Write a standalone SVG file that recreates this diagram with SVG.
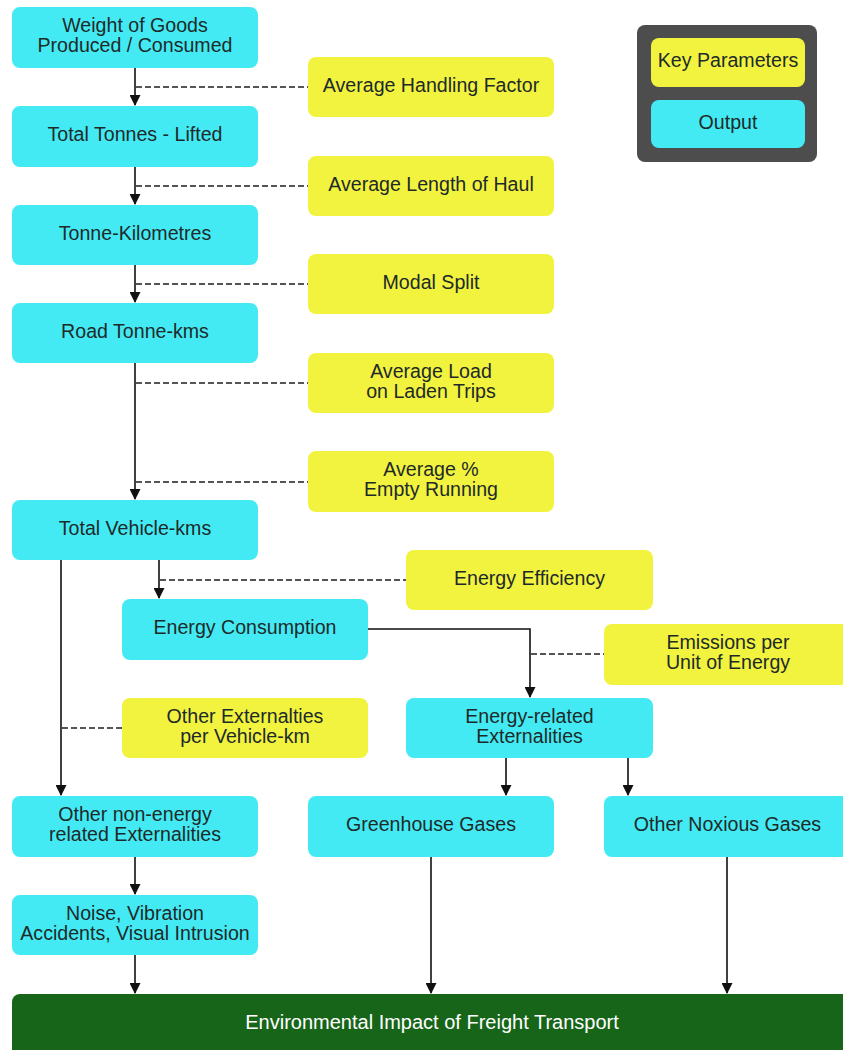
<svg xmlns="http://www.w3.org/2000/svg" width="843" height="1050" viewBox="0 0 843 1050">
<style>
.out{fill:#44EAF3}
.key{fill:#F2F33F}
.t{font-family:"Liberation Sans",Arial,sans-serif;font-size:19.6px;fill:#1e2a2a;text-anchor:middle}
.w{font-family:"Liberation Sans",Arial,sans-serif;font-size:20px;fill:#ffffff;text-anchor:middle}
.ln{stroke:#111;stroke-width:1.6;fill:none}
.ds{stroke:#555;stroke-width:2;stroke-dasharray:6 3;fill:none}
</style>
<defs>
<marker id="ah" markerWidth="11" markerHeight="11" refX="10" refY="5.5" orient="auto" markerUnits="userSpaceOnUse">
<path d="M0,0 L11,5.5 L0,11 Z" fill="#111"/>
</marker>
</defs>
<rect width="843" height="1050" fill="#ffffff"/>
<g id="connectors">
<path class="ln" d="M135,68 V105" marker-end="url(#ah)"/>
<path class="ln" d="M135,167 V204" marker-end="url(#ah)"/>
<path class="ln" d="M135,265 V302" marker-end="url(#ah)"/>
<path class="ln" d="M135,363 V499" marker-end="url(#ah)"/>
<path class="ln" d="M159,560 V598" marker-end="url(#ah)"/>
<path class="ln" d="M61,560 V795" marker-end="url(#ah)"/>
<path class="ln" d="M368,629 H530 V697" marker-end="url(#ah)"/>
<path class="ln" d="M506,758 V795" marker-end="url(#ah)"/>
<path class="ln" d="M628,758 V795" marker-end="url(#ah)"/>
<path class="ln" d="M135,857 V894" marker-end="url(#ah)"/>
<path class="ln" d="M135,955 V993" marker-end="url(#ah)"/>
<path class="ln" d="M431,857 V993" marker-end="url(#ah)"/>
<path class="ln" d="M727,857 V993" marker-end="url(#ah)"/>
<path class="ds" d="M136,87 H308"/>
<path class="ds" d="M136,186 H308"/>
<path class="ds" d="M136,284 H308"/>
<path class="ds" d="M136,383 H308"/>
<path class="ds" d="M136,482 H308"/>
<path class="ds" d="M160,580 H406"/>
<path class="ds" d="M531,654 H604"/>
<path class="ds" d="M62,728 H122"/>
</g>
<g id="legend">
<rect x="637" y="25" width="180" height="137" rx="8" fill="#4D4D4D"/>
<rect class="key" x="651" y="38" width="154" height="49" rx="8"/>
<text class="t" x="728" y="67">Key Parameters</text>
<rect class="out" x="651" y="100" width="154" height="48" rx="8"/>
<text class="t" x="728" y="129">Output</text>
</g>
<g id="n-weight"><rect class="out" x="12" y="7" width="246" height="61" rx="8"/><text class="t" x="135" y="32">Weight of Goods</text><text class="t" x="135" y="52">Produced / Consumed</text></g>
<g id="n-tonnes"><rect class="out" x="12" y="106" width="246" height="61" rx="8"/><text class="t" x="135" y="141">Total Tonnes - Lifted</text></g>
<g id="n-tkm"><rect class="out" x="12" y="205" width="246" height="60" rx="8"/><text class="t" x="135" y="240">Tonne-Kilometres</text></g>
<g id="n-road"><rect class="out" x="12" y="303" width="246" height="60" rx="8"/><text class="t" x="135" y="338">Road Tonne-kms</text></g>
<g id="n-vkm"><rect class="out" x="12" y="500" width="246" height="60" rx="8"/><text class="t" x="135" y="535">Total Vehicle-kms</text></g>
<g id="n-energy"><rect class="out" x="122" y="599" width="246" height="61" rx="8"/><text class="t" x="245" y="634">Energy Consumption</text></g>
<g id="n-energyext"><rect class="out" x="406" y="698" width="247" height="60" rx="8"/><text class="t" x="529.5" y="723">Energy-related</text><text class="t" x="529.5" y="743">Externalities</text></g>
<g id="n-nonenergy"><rect class="out" x="12" y="796" width="246" height="61" rx="8"/><text class="t" x="135" y="821">Other non-energy</text><text class="t" x="135" y="841">related Externalities</text></g>
<g id="n-ghg"><rect class="out" x="308" y="796" width="246" height="61" rx="8"/><text class="t" x="431" y="831">Greenhouse Gases</text></g>
<g id="n-nox"><rect class="out" x="604" y="796" width="260" height="61" rx="8"/><text class="t" x="727.5" y="831">Other Noxious Gases</text></g>
<g id="n-noise"><rect class="out" x="12" y="895" width="246" height="60" rx="8"/><text class="t" x="135" y="920">Noise, Vibration</text><text class="t" x="135" y="940">Accidents, Visual Intrusion</text></g>
<g id="k-handling"><rect class="key" x="308" y="57" width="246" height="60" rx="8"/><text class="t" x="431" y="92">Average Handling Factor</text></g>
<g id="k-haul"><rect class="key" x="308" y="156" width="246" height="60" rx="8"/><text class="t" x="431" y="191">Average Length of Haul</text></g>
<g id="k-modal"><rect class="key" x="308" y="254" width="246" height="60" rx="8"/><text class="t" x="431" y="289">Modal Split</text></g>
<g id="k-load"><rect class="key" x="308" y="353" width="246" height="60" rx="8"/><text class="t" x="431" y="378">Average Load</text><text class="t" x="431" y="398">on Laden Trips</text></g>
<g id="k-empty"><rect class="key" x="308" y="451" width="246" height="61" rx="8"/><text class="t" x="431" y="476">Average %</text><text class="t" x="431" y="496">Empty Running</text></g>
<g id="k-effic"><rect class="key" x="406" y="550" width="247" height="60" rx="8"/><text class="t" x="529.5" y="585">Energy Efficiency</text></g>
<g id="k-emis"><rect class="key" x="604" y="624" width="260" height="61" rx="8"/><text class="t" x="728" y="649">Emissions per</text><text class="t" x="728" y="669">Unit of Energy</text></g>
<g id="k-otherext"><rect class="key" x="122" y="698" width="246" height="60" rx="8"/><text class="t" x="245" y="723">Other Externalties</text><text class="t" x="245" y="743">per Vehicle-km</text></g>
<g id="n-impact"><rect x="12" y="994" width="860" height="80" rx="8" fill="#176519"/><text class="w" x="432" y="1029">Environmental Impact of Freight Transport</text></g>
</svg>
